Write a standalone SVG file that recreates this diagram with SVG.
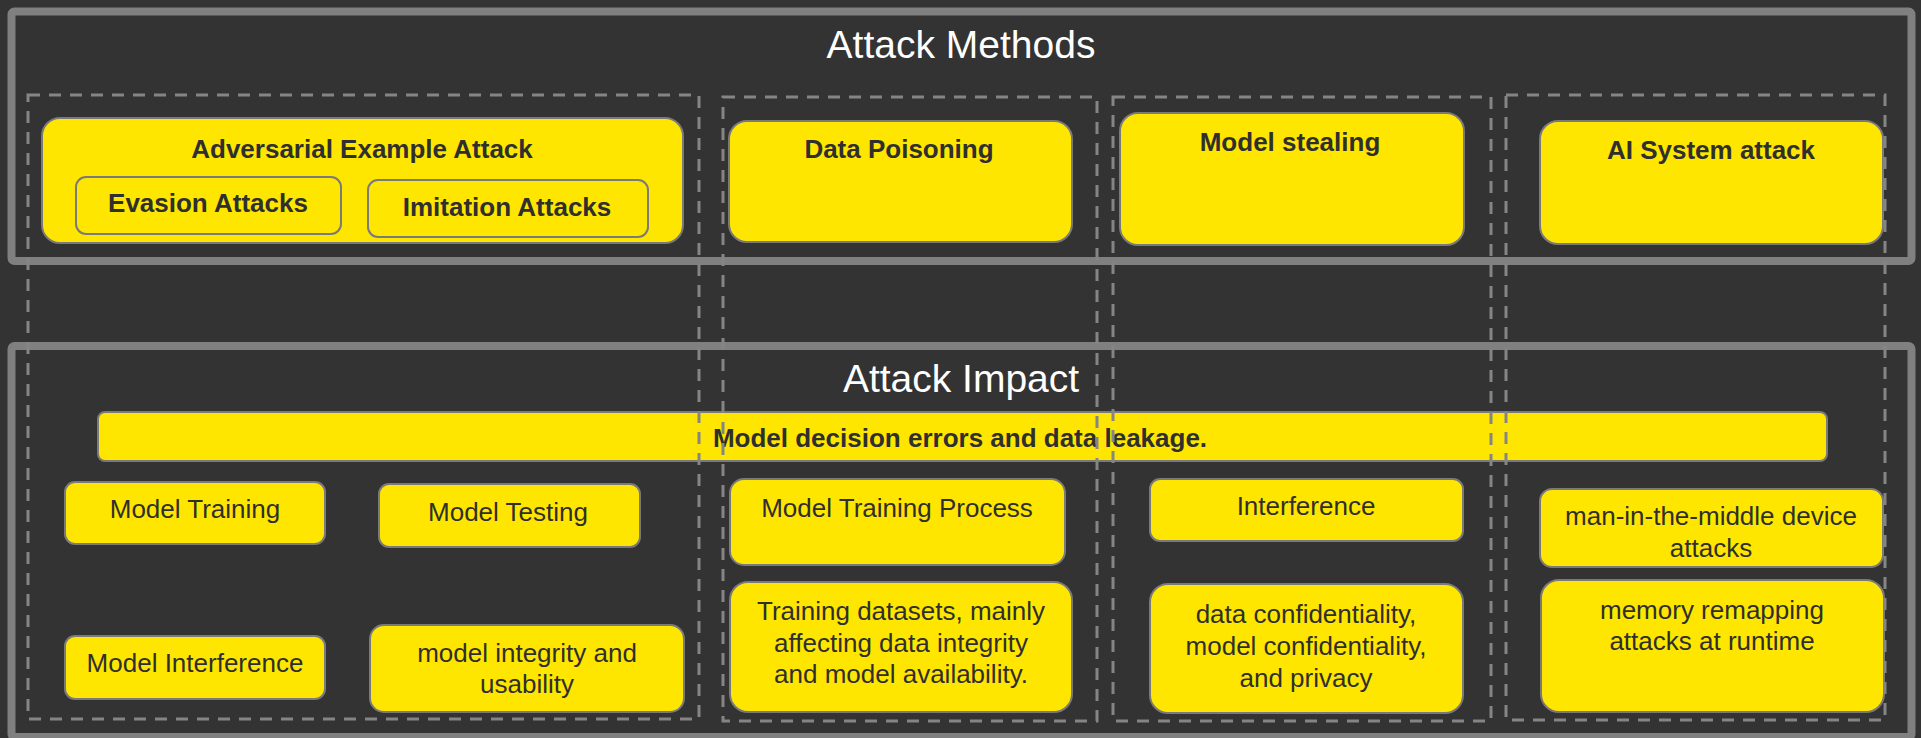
<svg xmlns="http://www.w3.org/2000/svg" width="1921" height="738" viewBox="0 0 1921 738">
  <style>
    .frame { fill: none; stroke: #808080; stroke-width: 8; }
    .title { font-family: "Liberation Sans", Arial, sans-serif; font-size: 39px; fill: #ffffff; text-anchor: middle; }
    .box { fill: #ffe600; stroke: #7a7a7a; stroke-width: 2; }
    .lbl { font-family: "Liberation Sans", Arial, sans-serif; font-size: 26px; fill: #2f2f2f; text-anchor: middle; }
    .bold { font-weight: bold; }
    .col { fill: none; stroke: #858585; stroke-width: 3; stroke-dasharray: 12 9; }
  </style>

  <!-- background -->
  <rect x="0" y="0" width="1921" height="738" fill="#333333"/>

  <!-- section frames -->
  <g id="attack-methods-frame">
    <rect class="frame" x="11.5" y="11.5" width="1900" height="249.5" rx="3"/>
    <text class="title" x="961" y="58">Attack Methods</text>
  </g>
  <g id="attack-impact-frame">
    <rect class="frame" x="11.5" y="346" width="1900" height="391" rx="3"/>
    <text class="title" x="961" y="392">Attack Impact</text>
  </g>

  <!-- attack method nodes -->
  <g id="adversarial-example-attack">
    <rect class="box" x="42" y="118" width="641" height="125" rx="18"/>
    <text class="lbl bold" x="362" y="158">Adversarial Example Attack</text>
  </g>
  <g id="evasion-attacks">
    <rect class="box" x="76" y="177" width="265" height="57" rx="10"/>
    <text class="lbl bold" x="208" y="212">Evasion Attacks</text>
  </g>
  <g id="imitation-attacks">
    <rect class="box" x="368" y="180" width="280" height="57" rx="10"/>
    <text class="lbl bold" x="507" y="216">Imitation Attacks</text>
  </g>
  <g id="data-poisoning">
    <rect class="box" x="729" y="121" width="343" height="121" rx="18"/>
    <text class="lbl bold" x="899" y="158">Data Poisoning</text>
  </g>
  <g id="model-stealing">
    <rect class="box" x="1120" y="113" width="344" height="132" rx="18"/>
    <text class="lbl bold" x="1290" y="151">Model stealing</text>
  </g>
  <g id="ai-system-attack">
    <rect class="box" x="1540" y="121" width="343" height="123" rx="18"/>
    <text class="lbl bold" x="1711" y="159">AI System attack</text>
  </g>

  <!-- attack impact nodes -->
  <g id="decision-errors">
    <rect class="box" x="98" y="412" width="1729" height="49" rx="7"/>
    <text class="lbl bold" x="960" y="447">Model decision errors and data leakage.</text>
  </g>
  <g id="model-training">
    <rect class="box" x="65" y="482" width="260" height="62" rx="10"/>
    <text class="lbl" x="195" y="518">Model Training</text>
  </g>
  <g id="model-testing">
    <rect class="box" x="379" y="484" width="261" height="63" rx="10"/>
    <text class="lbl" x="508" y="521">Model Testing</text>
  </g>
  <g id="model-interference">
    <rect class="box" x="65" y="636" width="260" height="63" rx="10"/>
    <text class="lbl" x="195" y="672">Model Interference</text>
  </g>
  <g id="model-integrity">
    <rect class="box" x="370" y="625" width="314" height="87" rx="14"/>
    <text class="lbl" x="527" y="662">model integrity and</text>
    <text class="lbl" x="527" y="693">usability</text>
  </g>
  <g id="model-training-process">
    <rect class="box" x="730" y="479" width="335" height="86" rx="14"/>
    <text class="lbl" x="897" y="517">Model Training Process</text>
  </g>
  <g id="training-datasets">
    <rect class="box" x="730" y="582" width="342" height="130" rx="18"/>
    <text class="lbl" x="901" y="620">Training datasets, mainly</text>
    <text class="lbl" x="901" y="652">affecting data integrity</text>
    <text class="lbl" x="901" y="683">and model availability.</text>
  </g>
  <g id="interference">
    <rect class="box" x="1150" y="479" width="313" height="62" rx="10"/>
    <text class="lbl" x="1306" y="515">Interference</text>
  </g>
  <g id="confidentiality">
    <rect class="box" x="1150" y="584" width="313" height="129" rx="18"/>
    <text class="lbl" x="1306" y="623">data confidentiality,</text>
    <text class="lbl" x="1306" y="655">model confidentiality,</text>
    <text class="lbl" x="1306" y="687">and privacy</text>
  </g>
  <g id="man-in-the-middle">
    <rect class="box" x="1540" y="489" width="343" height="78" rx="12"/>
    <text class="lbl" x="1711" y="525">man-in-the-middle device</text>
    <text class="lbl" x="1711" y="557">attacks</text>
  </g>
  <g id="memory-remapping">
    <rect class="box" x="1541" y="580" width="343" height="132" rx="18"/>
    <text class="lbl" x="1712" y="619">memory remapping</text>
    <text class="lbl" x="1712" y="650">attacks at runtime</text>
  </g>

  <!-- dashed column groupings, drawn on top -->
  <g id="columns">
    <rect class="col" x="28" y="95" width="671" height="624"/>
    <rect class="col" x="723" y="97" width="374" height="624"/>
    <rect class="col" x="1113" y="97" width="378" height="624"/>
    <rect class="col" x="1506" y="95" width="379" height="625"/>
  </g>
</svg>
